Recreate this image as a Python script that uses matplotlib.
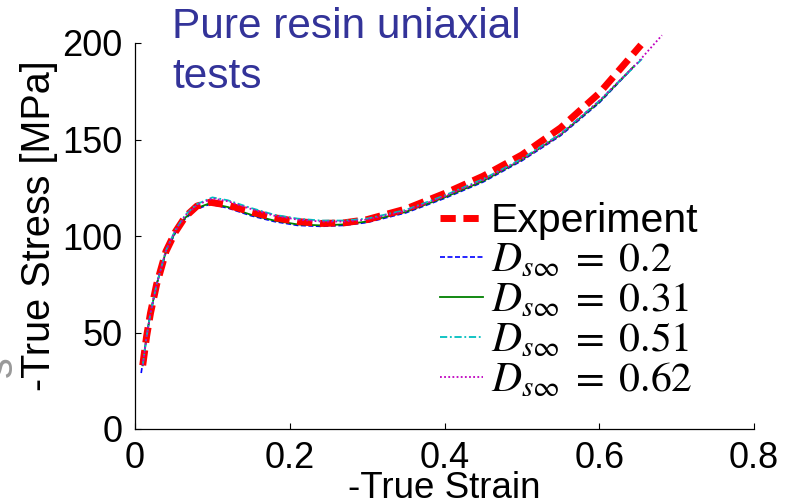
import matplotlib
matplotlib.use("Agg")
import matplotlib.pyplot as plt

plt.rcParams['font.family'] = ['Liberation Sans', 'DejaVu Sans']
plt.rcParams['mathtext.fontset'] = 'stix'

# ---- data ----
exp_strain = [0.010, 0.015, 0.020, 0.028, 0.040, 0.052, 0.065, 0.080, 0.097, 0.120,
              0.150, 0.180, 0.210, 0.240, 0.270, 0.300, 0.350, 0.400, 0.450, 0.500,
              0.550, 0.600, 0.654]
exp_stress = [33, 48, 60, 75, 92, 102, 110, 115.5, 117.5, 116,
              112.5, 109.5, 107.5, 106.5, 106.8, 108.5, 114, 122, 131, 142,
              156, 174, 199]

d02_strain = [0.008, 0.015, 0.020, 0.028, 0.040, 0.052, 0.065, 0.080, 0.097, 0.120,
              0.150, 0.180, 0.210, 0.240, 0.270, 0.300, 0.350, 0.400, 0.450, 0.500,
              0.550, 0.600, 0.643]
d02_stress = [29, 48, 60, 75, 91.5, 101.5, 109, 114, 116.5, 114.5,
              110.5, 107.5, 105.5, 105, 105.5, 107, 112, 119.5, 128, 139,
              152, 169, 187]

d031_strain = [0.010, 0.015, 0.020, 0.028, 0.040, 0.052, 0.065, 0.080, 0.097, 0.120,
               0.150, 0.180, 0.210, 0.240, 0.270, 0.300, 0.350, 0.400, 0.450, 0.500,
               0.550, 0.600, 0.645]
d031_stress = [33, 48, 60, 75, 92, 102, 109.5, 114.5, 117, 115,
               111, 108, 106, 105.5, 106, 107.5, 112.5, 120, 128.5, 139.5,
               152.5, 169.5, 188]

d051_strain = [0.010, 0.015, 0.020, 0.028, 0.040, 0.052, 0.065, 0.080, 0.100, 0.120,
               0.150, 0.180, 0.210, 0.240, 0.270, 0.300, 0.350, 0.400, 0.450, 0.500,
               0.550, 0.600, 0.656]
d051_stress = [33, 48, 60, 75, 92.5, 103, 111, 116.5, 120, 118.5,
               114.5, 111, 109, 108, 108, 109, 113.5, 121, 129.5, 140,
               153, 170, 192]

d062_strain = [0.010, 0.015, 0.020, 0.028, 0.040, 0.052, 0.065, 0.080, 0.100, 0.120,
               0.150, 0.180, 0.210, 0.240, 0.270, 0.300, 0.350, 0.400, 0.450, 0.500,
               0.550, 0.600, 0.650, 0.681]
d062_stress = [33, 48, 60, 75, 92.5, 102.5, 110.5, 116, 119.5, 118,
               114, 110.5, 108.5, 107.5, 107.5, 108.5, 113, 120.5, 129, 139.5,
               152.5, 170, 190, 204]

labels = ['Experiment', r'$D_{s\infty}\;=\;0.2$', r'$D_{s\infty}\;=\;0.31$',
          r'$D_{s\infty}\;=\;0.51$', r'$D_{s\infty}\;=\;0.62$']
xticks = [0, 0.2, 0.4, 0.6, 0.8]
xticklabels = ['0', '0.2', '0.4', '0.6', '0.8']
yticks = [0, 50, 100, 150, 200]
yticklabels = ['0', '50', '100', '150', '200']

fig = plt.figure(figsize=(7.88, 5.03), dpi=100)
ax = fig.add_axes([135/788, 1-429/503, (754-135)/788, (429-43)/503])

l_exp, = ax.plot(exp_strain, exp_stress, color='#ff0000', lw=5, dashes=(2.2, 1.1),
                 solid_capstyle='butt', dash_capstyle='butt', zorder=3, clip_on=False)
l1, = ax.plot(d02_strain, d02_stress, color='#0000ff', lw=1.2, dashes=(3, 1.5), zorder=2, clip_on=False)
l2, = ax.plot(d031_strain, d031_stress, color='#008000', lw=1.3, ls='-', zorder=2, clip_on=False)
l3, = ax.plot(d051_strain, d051_stress, color='#00bfbf', lw=1.3, dashes=(4, 1.5, 1, 1.5), zorder=4, clip_on=False)
l4, = ax.plot(d062_strain, d062_stress, color='#bf00bf', lw=1.3, dashes=(1, 1.3), zorder=4, clip_on=False)

ax.set_xlim(0, 0.8)
ax.set_ylim(0, 200)
ax.set_xticks(xticks)
ax.set_xticklabels(xticklabels)
ax.set_yticks(yticks)
ax.set_yticklabels(yticklabels)
ax.tick_params(direction='in', length=4, width=0.8, labelsize=26, pad=9)
for s in ['top', 'right']:
    ax.spines[s].set_visible(False)
for s in ['left', 'bottom']:
    ax.spines[s].set_linewidth(0.9)

ax.set_xlabel('-True Strain', fontsize=26.5, labelpad=-4)
ax.set_ylabel('-True Stress [MPa]', fontsize=28.5)
ax.yaxis.set_label_coords((58 - 135) / 619, (429 - 226) / 386)

fig.text(172/788, 1-7/503, 'Pure resin uniaxial\ntests', color='#333399', fontsize=30.5,
         ha='left', va='top', linespacing=1.33)

fig.text(1/788, 1-367/503, 's', color='#999999', fontsize=30, rotation=90,
         ha='center', va='center')

leg = ax.legend([l_exp, l1, l2, l3, l4], labels, loc='upper left',
                bbox_to_anchor=(440/788, 1-202/503), bbox_transform=fig.transFigure,
                frameon=False, fontsize=28, borderpad=0, borderaxespad=0,
                handlelength=1.1, handletextpad=0.2, labelspacing=0.0)
texts = leg.get_texts()
texts[0].set_fontsize(29.5)
for t in texts[1:]:
    t.set_fontsize(30)

fig.savefig('out.png', dpi=100)
